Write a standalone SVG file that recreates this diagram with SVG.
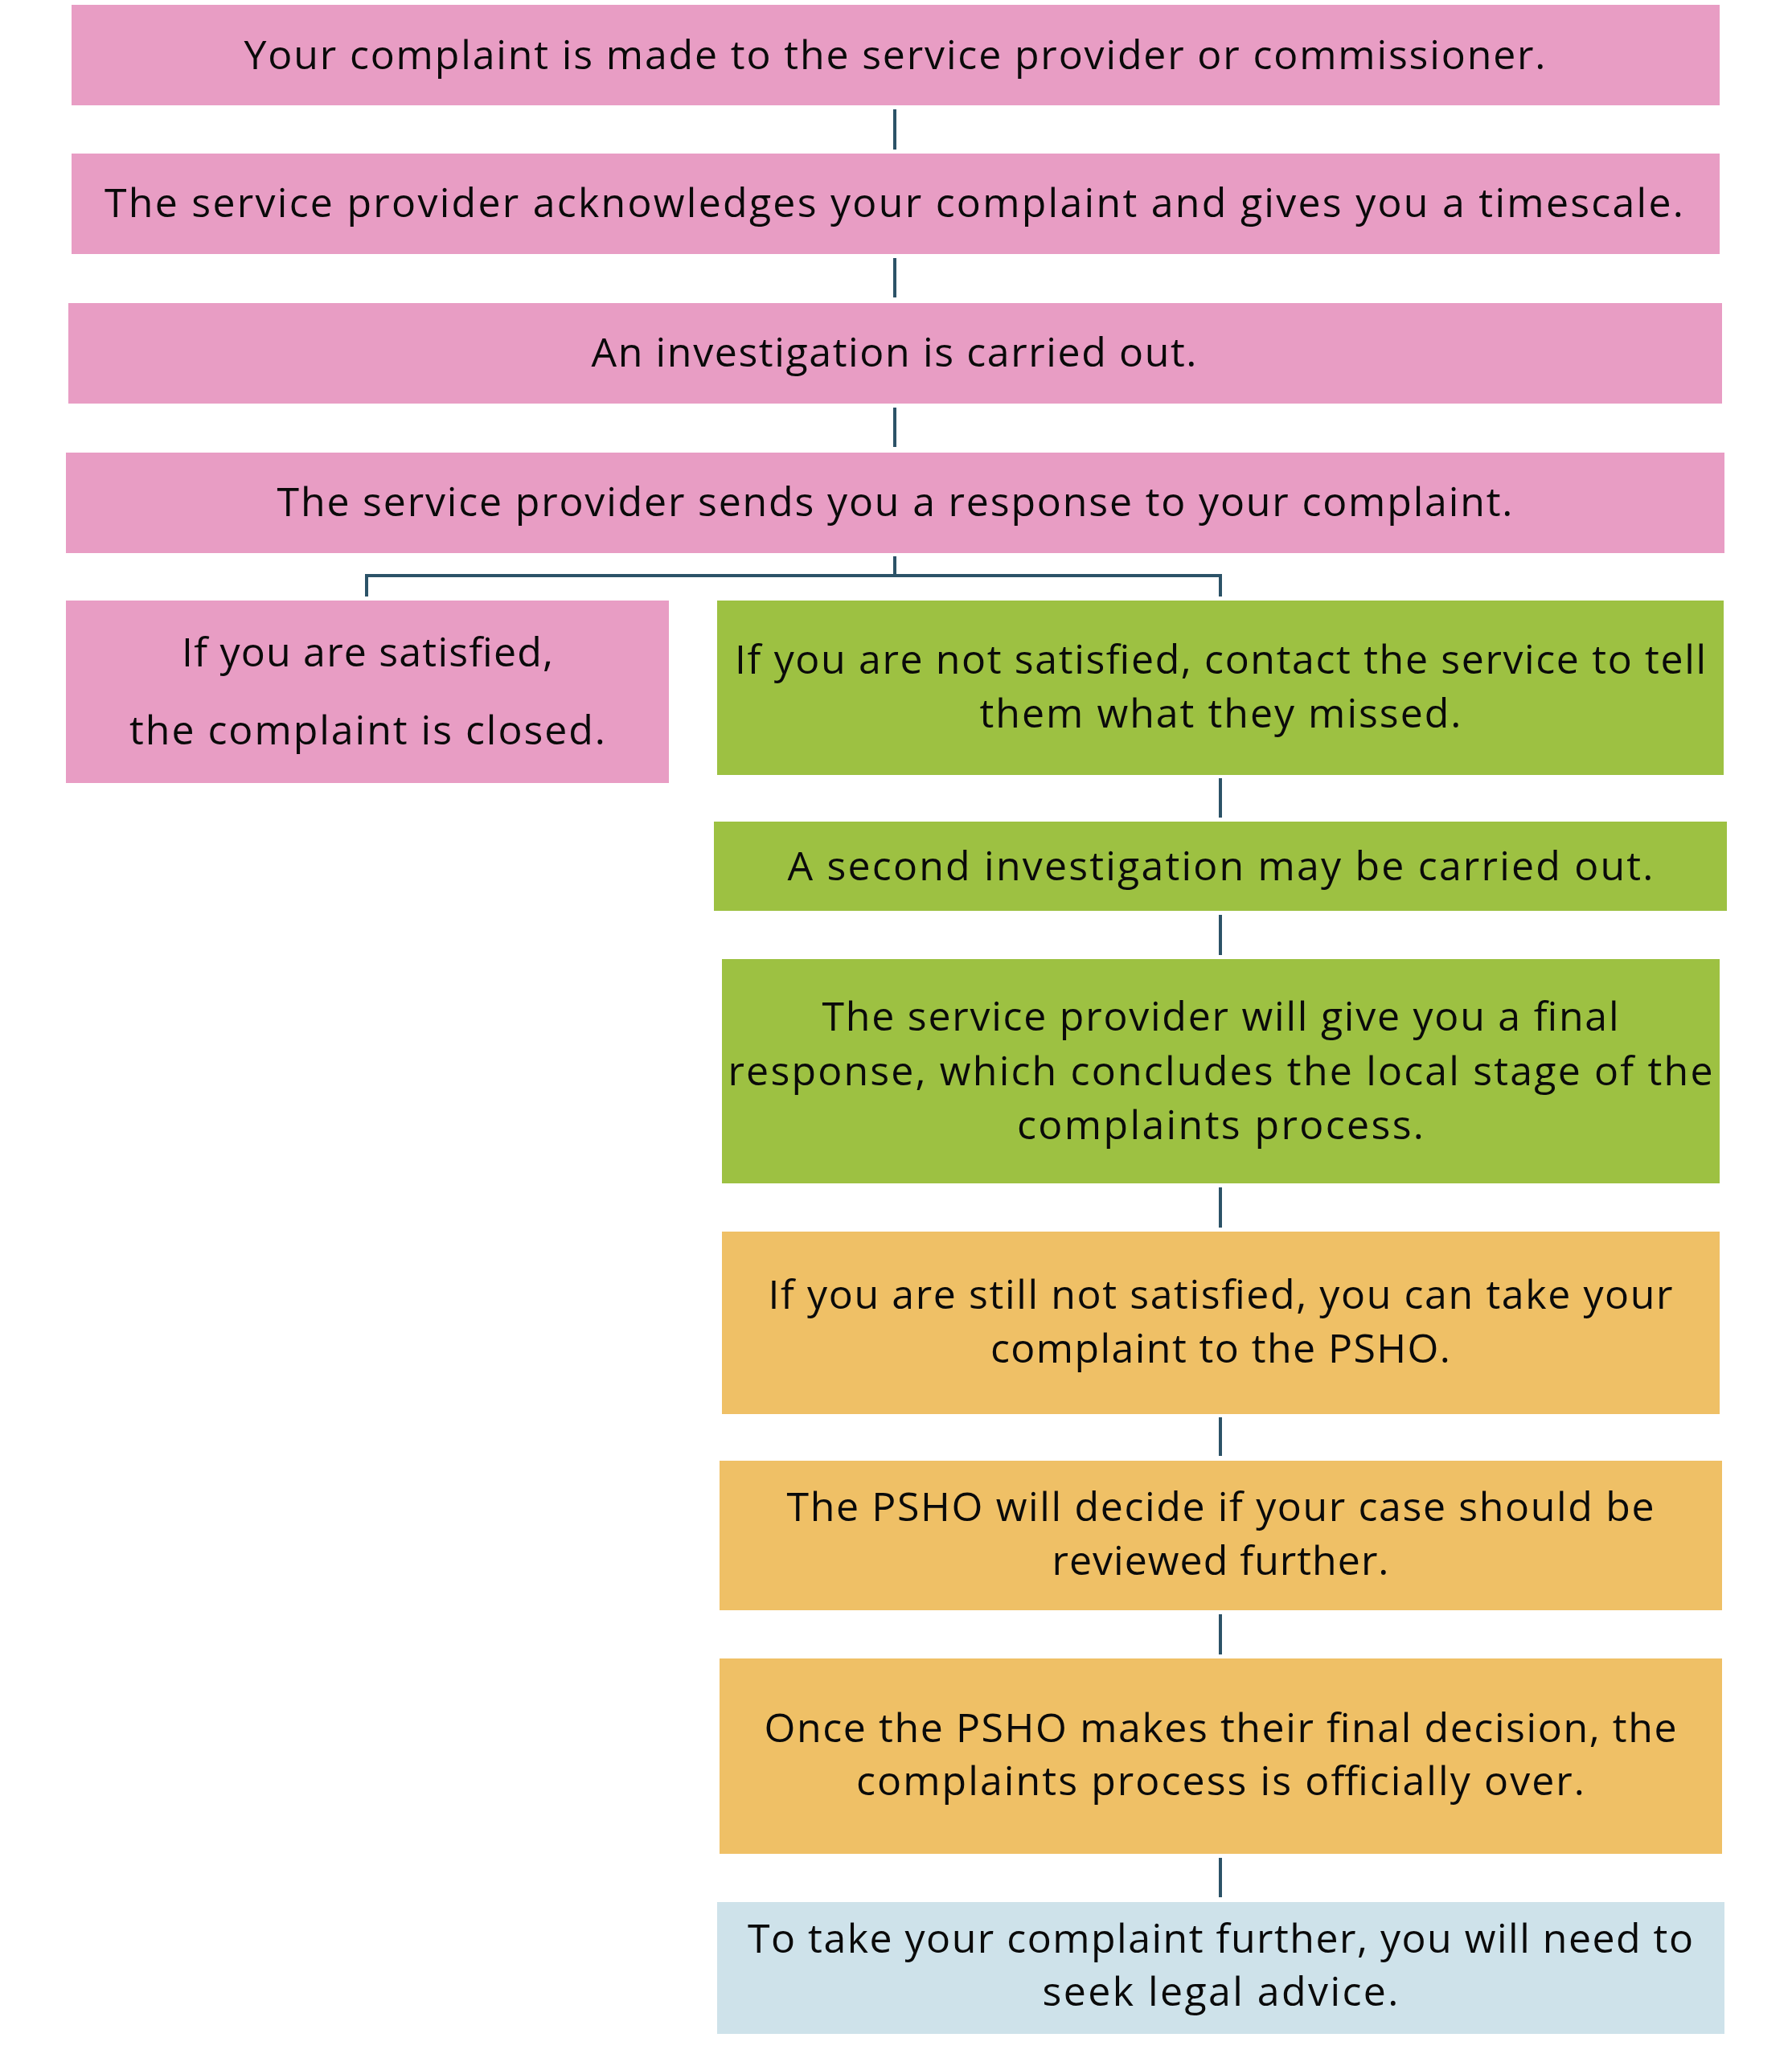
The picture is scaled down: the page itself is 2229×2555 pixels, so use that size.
<svg xmlns="http://www.w3.org/2000/svg" width="2229" height="2555" viewBox="0 0 2229 2555">
<style>
.pink{fill:#E89DC4}
.green{fill:#9DC142}
.amber{fill:#EFC066}
.blue{fill:#CEE2EA}
.t{font-family:"Open Sans","Noto Sans","Liberation Sans",sans-serif;font-size:50px;fill:#0a0a0a;text-anchor:middle}
.c{stroke:#2C5368;stroke-width:4;fill:none}
</style>
<rect width="2229" height="2555" fill="#ffffff"/>
<g id="connectors">
<line class="c" x1="1113" y1="136" x2="1113" y2="186"/>
<line class="c" x1="1113" y1="321" x2="1113" y2="370"/>
<line class="c" x1="1113" y1="507" x2="1113" y2="556"/>
<polyline class="c" points="1113,692 1113,716"/>
<polyline class="c" points="456,742 456,716 1518,716 1518,742"/>
<line class="c" x1="1518" y1="968" x2="1518" y2="1017"/>
<line class="c" x1="1518" y1="1138" x2="1518" y2="1188"/>
<line class="c" x1="1518" y1="1477" x2="1518" y2="1527"/>
<line class="c" x1="1518" y1="1763" x2="1518" y2="1811"/>
<line class="c" x1="1518" y1="2008" x2="1518" y2="2058"/>
<line class="c" x1="1518" y1="2311" x2="1518" y2="2360"/>
</g>
<g id="n1">
<rect class="pink" x="89" y="6" width="2050" height="125"/>
<text class="t" x="1113" y="86" textLength="1619" lengthAdjust="spacing">Your complaint is made to the service provider or commissioner.</text>
</g>
<g id="n2">
<rect class="pink" x="89" y="191" width="2050" height="125"/>
<text class="t" x="1112" y="270" textLength="1964" lengthAdjust="spacing">The service provider acknowledges your complaint and gives you a timescale.</text>
</g>
<g id="n3">
<rect class="pink" x="85" y="377" width="2057" height="125"/>
<text class="t" x="1112" y="456" textLength="753" lengthAdjust="spacing">An investigation is carried out.</text>
</g>
<g id="n4">
<rect class="pink" x="82" y="563" width="2063" height="125"/>
<text class="t" x="1113" y="642" textLength="1537" lengthAdjust="spacing">The service provider sends you a response to your complaint.</text>
</g>
<g id="n5">
<rect class="pink" x="82" y="747" width="750" height="227"/>
<text class="t" x="457" y="829" textLength="462" lengthAdjust="spacing">If you are satisfied,</text>
<text class="t" x="457" y="926" textLength="592" lengthAdjust="spacing">the complaint is closed.</text>
</g>
<g id="n6">
<rect class="green" x="892" y="747" width="1252" height="217"/>
<text class="t" x="1518" y="838" textLength="1208" lengthAdjust="spacing">If you are not satisfied, contact the service to tell</text>
<text class="t" x="1518" y="905" textLength="599" lengthAdjust="spacing">them what they missed.</text>
</g>
<g id="n7">
<rect class="green" x="888" y="1022" width="1260" height="111"/>
<text class="t" x="1518" y="1095" textLength="1077" lengthAdjust="spacing">A second investigation may be carried out.</text>
</g>
<g id="n8">
<rect class="green" x="898" y="1193" width="1241" height="279"/>
<text class="t" x="1518" y="1282" textLength="991" lengthAdjust="spacing">The service provider will give you a final</text>
<text class="t" x="1518" y="1350" textLength="1225" lengthAdjust="spacing">response, which concludes the local stage of the</text>
<text class="t" x="1518" y="1417" textLength="506" lengthAdjust="spacing">complaints process.</text>
</g>
<g id="n9">
<rect class="amber" x="898" y="1532" width="1241" height="227"/>
<text class="t" x="1518" y="1628" textLength="1125" lengthAdjust="spacing">If you are still not satisfied, you can take your</text>
<text class="t" x="1518" y="1695" textLength="572" lengthAdjust="spacing">complaint to the PSHO.</text>
</g>
<g id="n10">
<rect class="amber" x="895" y="1817" width="1247" height="186"/>
<text class="t" x="1518" y="1892" textLength="1079" lengthAdjust="spacing">The PSHO will decide if your case should be</text>
<text class="t" x="1518" y="1959" textLength="419" lengthAdjust="spacing">reviewed further.</text>
</g>
<g id="n11">
<rect class="amber" x="895" y="2063" width="1247" height="243"/>
<text class="t" x="1518" y="2167" textLength="1135" lengthAdjust="spacing">Once the PSHO makes their final decision, the</text>
<text class="t" x="1518" y="2233" textLength="906" lengthAdjust="spacing">complaints process is officially over.</text>
</g>
<g id="n12">
<rect class="blue" x="892" y="2366" width="1253" height="164"/>
<text class="t" x="1518" y="2429" textLength="1176" lengthAdjust="spacing">To take your complaint further, you will need to</text>
<text class="t" x="1518" y="2495" textLength="443" lengthAdjust="spacing">seek legal advice.</text>
</g>
</svg>
